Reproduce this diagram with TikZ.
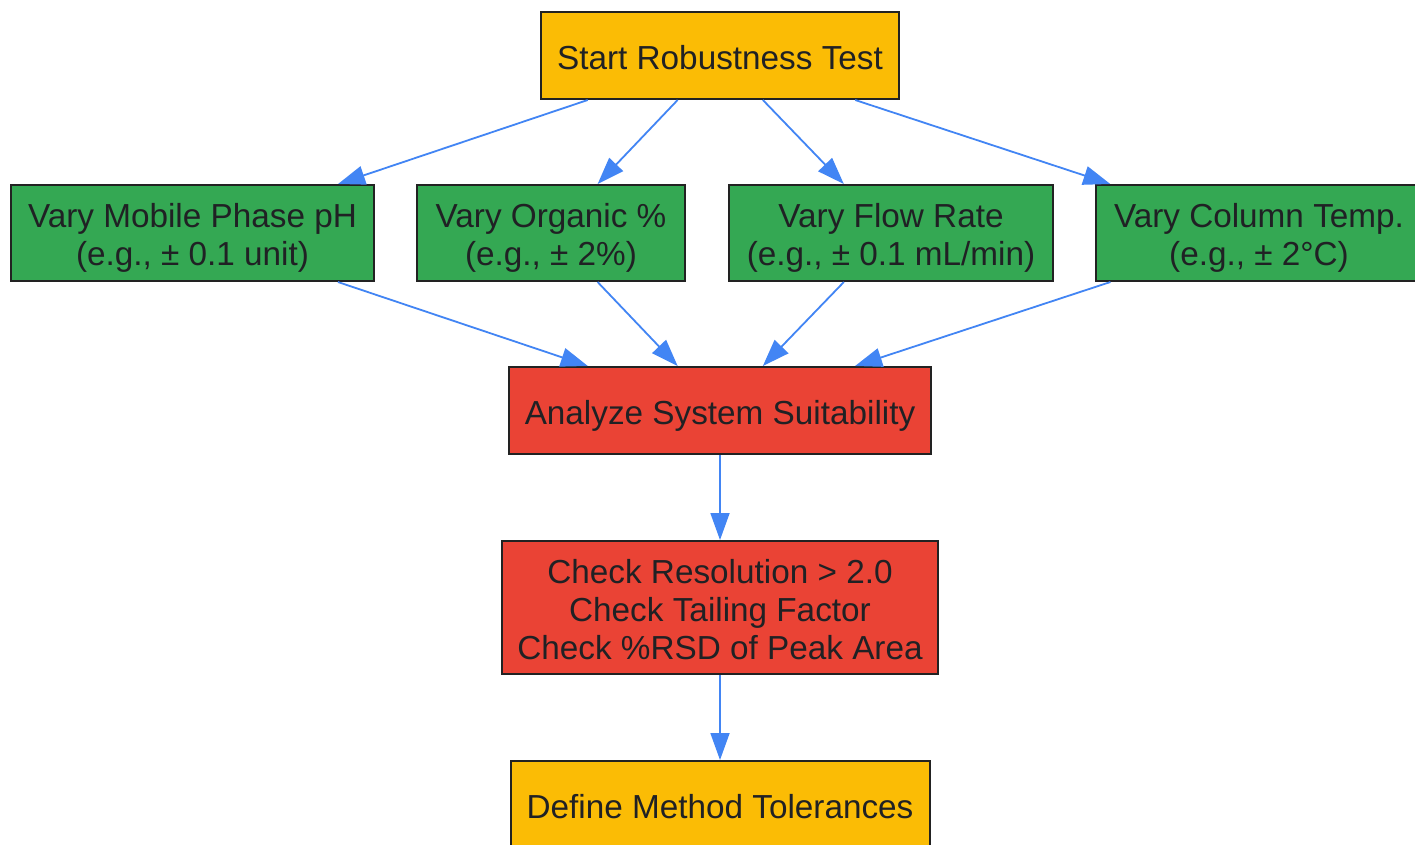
\documentclass[tikz,border=0pt]{standalone}
\usepackage{fontspec}
\setmainfont{Liberation Sans}
\usetikzlibrary{arrows.meta}
\definecolor{gyellow}{HTML}{FBBC05}
\definecolor{ggreen}{HTML}{34A853}
\definecolor{gred}{HTML}{EA4335}
\definecolor{gblue}{HTML}{4285F4}
\definecolor{txtc}{HTML}{202124}
\definecolor{brd}{HTML}{222222}
\newcommand\fst{\rule{0pt}{35pt}}
\newcommand\lst{\rule[-8pt]{0pt}{8pt}}
\tikzset{
  box/.style={draw=brd, line width=2pt, inner sep=0pt, align=center, text=txtc,
    font=\fontsize{33.3}{38}\selectfont},
  ybox/.style={box, fill=gyellow},
  gbox/.style={box, fill=ggreen},
  rbox/.style={box, fill=gred},
  conn/.style={draw=gblue, line width=1.8pt, -{Triangle[length=27pt,width=19pt]}}
}
\begin{document}
\begin{tikzpicture}[x=1pt,y=-1pt]
\useasboundingbox[fill=white] (0,0) rectangle (1415,844);
\node[ybox, minimum width=358pt, minimum height=87pt] (start) at (720,55.5) {\fst\lst Start Robustness Test};
\node[gbox, minimum width=363pt, minimum height=96pt] (ph) at (192.5,233) {\fst Vary Mobile Phase pH\\(e.g., ± 0.1 unit)\lst};
\node[gbox, minimum width=268pt, minimum height=96pt] (org) at (551,233) {\fst Vary Organic \%\\(e.g., ± 2\%)\lst};
\node[gbox, minimum width=324pt, minimum height=96pt] (flow) at (891,233) {\fst Vary Flow Rate\\(e.g., ± 0.1 mL/min)\lst};
\node[gbox, minimum width=326pt, minimum height=96pt] (temp) at (1259,233) {\fst Vary Column Temp.\\(e.g., ± 2°C)\lst};
\node[rbox, minimum width=422pt, minimum height=87pt] (ana) at (720,410.5) {\fst\lst Analyze System Suitability};
\node[rbox, minimum width=436pt, minimum height=133pt] (chk) at (720,607.5) {\fst Check Resolution > 2.0\\Check Tailing Factor\\Check \%RSD of Peak Area\lst};
\node[ybox, minimum width=419pt, minimum height=87pt] (def) at (720,804.5) {\fst\lst Define Method Tolerances};
\draw[conn] (start) -- (ph);
\draw[conn] (start) -- (org);
\draw[conn] (start) -- (flow);
\draw[conn] (start) -- (temp);
\draw[conn] (ph) -- (ana);
\draw[conn] (org) -- (ana);
\draw[conn] (flow) -- (ana);
\draw[conn] (temp) -- (ana);
\draw[conn] (ana) -- (chk);
\draw[conn] (chk) -- (def);
\end{tikzpicture}
\end{document}
